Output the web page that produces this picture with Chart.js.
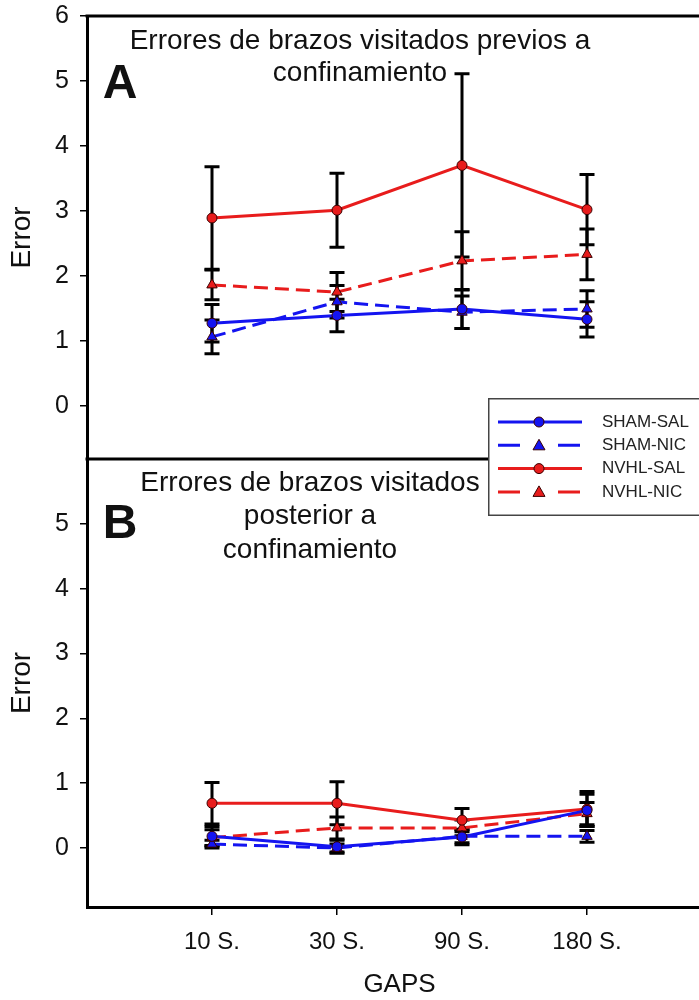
<!DOCTYPE html>
<html lang="es">
<head>
<meta charset="UTF-8">
<title>Errores de brazos visitados</title>
<script src="https://cdn.jsdelivr.net/npm/chart.js"></script>
<style>
  body { margin: 0; background: #fff; overflow: hidden; }
  #wrap { position: relative; width: 699px; height: 1000px; overflow: hidden; }
  canvas { position: absolute; left: 0; }
  #chartA { top: 0; }
  #chartB { top: 459px; }
  #legend { left: 488px; top: 398px; }
</style>
</head>
<body>
<div id="wrap">
  <canvas id="chartB" width="712" height="541"></canvas>
  <canvas id="chartA" width="712" height="462"></canvas>
  <canvas id="legend" width="211" height="118"></canvas>
</div>
<script>
const categories = ['10 S.', '30 S.', '90 S.', '180 S.'];
const groups = ['SHAM-SAL', 'SHAM-NIC', 'NVHL-SAL', 'NVHL-NIC'];

// A: previos a confinamiento (media y error)
const shamSalA = [1.27, 1.39, 1.49, 1.33];
const shamNicA = [1.06, 1.60, 1.44, 1.49];
const nvhlSalA = [2.89, 3.01, 3.70, 3.02];
const nvhlNicA = [1.86, 1.75, 2.23, 2.33];
const shamSalErrA = [0.29, 0.25, 0.30, 0.27];
const shamNicErrA = [0.26, 0.25, 0.25, 0.28];
const nvhlSalErrA = [0.79, 0.57, 1.41, 0.54];
const nvhlNicErrA = [0.23, 0.30, 0.45, 0.39];

// B: posterior a confinamiento
const shamSalB = [0.18, 0.02, 0.17, 0.58];
const shamNicB = [0.06, 0.00, 0.18, 0.18];
const nvhlSalB = [0.69, 0.69, 0.43, 0.60];
const nvhlNicB = [0.16, 0.31, 0.31, 0.53];
const shamSalErrB = [0.15, 0.10, 0.12, 0.25];
const shamNicErrB = [0.06, 0.06, 0.10, 0.09];
const nvhlSalErrB = [0.32, 0.33, 0.18, 0.27];
const nvhlNicErrB = [0.12, 0.17, 0.12, 0.17];

const yTicksA = [0, 1, 2, 3, 4, 5, 6];
const yTicksB = [0, 1, 2, 3, 4, 5];

const FONT = '"Liberation Sans", Arial, Helvetica, sans-serif';
const seriesColor = ['#1414f0', '#1414f0', '#e81c1c', '#e81c1c'];
const seriesDash = [[], [14, 7], [], [14, 7]];
const seriesMarker = ['circle', 'triangle', 'circle', 'triangle'];

Chart.defaults.font.family = FONT;
Chart.defaults.color = '#111';

function makeDatasets(means, errs) {
  return groups.map((g, i) => ({
    label: g,
    data: means[i].map((v, j) => ({ x: j + 1, y: v })),
    errs: errs[i],
    borderColor: seriesColor[i],
    backgroundColor: seriesColor[i],
    borderWidth: 3,
    borderDash: seriesDash[i],
    pointStyle: seriesMarker[i],
    pointRadius: seriesMarker[i] === 'triangle' ? 6 : 5,
    pointBorderColor: '#3a0000',
    pointBorderWidth: 1,
    pointBackgroundColor: seriesColor[i],
    tension: 0
  }));
}

// barras de error negras detras de las lineas
const errorBars = {
  id: 'errorBars',
  beforeDatasetsDraw(chart) {
    const { ctx, scales: { x, y } } = chart;
    ctx.save();
    ctx.strokeStyle = '#000';
    ctx.lineWidth = 3;
    chart.data.datasets.forEach(ds => {
      ds.data.forEach((p, j) => {
        const e = ds.errs[j];
        const px = x.getPixelForValue(p.x);
        const yt = y.getPixelForValue(p.y + e);
        const yb = y.getPixelForValue(p.y - e);
        ctx.beginPath();
        ctx.moveTo(px, yt); ctx.lineTo(px, yb);
        ctx.moveTo(px - 7.5, yt); ctx.lineTo(px + 7.5, yt);
        ctx.moveTo(px - 7.5, yb); ctx.lineTo(px + 7.5, yb);
        ctx.stroke();
      });
    });
    ctx.restore();
  }
};

// textos dentro del panel y lineas del marco
const panelDecor = {
  id: 'panelDecor',
  afterDraw(chart, args, opts) {
    const { ctx, chartArea } = chart;
    ctx.save();
    ctx.strokeStyle = '#000';
    ctx.lineWidth = 3;
    (opts.frame || []).forEach(side => {
      const yy = side === 'top' ? chartArea.top : chartArea.bottom;
      ctx.beginPath();
      ctx.moveTo(chartArea.left - 1.5, yy);
      ctx.lineTo(chartArea.right, yy);
      ctx.stroke();
    });
    ctx.fillStyle = '#111';
    ctx.textAlign = 'center';
    ctx.textBaseline = 'middle';
    ctx.font = 'bold 48px ' + FONT;
    ctx.fillText(opts.letter, chartArea.left + 33, chartArea.top + opts.letterY);
    ctx.font = '28px ' + FONT;
    opts.lines.forEach((t, k) => {
      ctx.fillText(t, opts.cx, chartArea.top + opts.ty + k * opts.lh);
    });
    ctx.restore();
  }
};

function yScale(min, max, ticks) {
  return {
    min: min, max: max,
    afterBuildTicks: s => { s.ticks = ticks.map(v => ({ value: v })); },
    afterFit: s => { s.width = 87; s.paddingTop = 0; s.paddingBottom = 0; },
    grid: { drawOnChartArea: false, drawTicks: true, tickLength: 7, color: '#000', lineWidth: 1.5 },
    border: { display: true, color: '#000', width: 3 },
    ticks: { font: { size: 25 }, color: '#111', padding: 11 },
    title: { display: true, text: 'Error', font: { size: 28 }, color: '#111', padding: { top: 5, bottom: 0 } }
  };
}

new Chart(document.getElementById('chartA'), {
  type: 'line',
  data: {
    datasets: makeDatasets([shamSalA, shamNicA, nvhlSalA, nvhlNicA],
                           [shamSalErrA, shamNicErrA, nvhlSalErrA, nvhlNicErrA])
  },
  options: {
    responsive: false,
    animation: false,
    layout: { autoPadding: false, padding: { top: 16, bottom: 3, left: 0, right: 0 } },
    plugins: {
      legend: { display: false },
      tooltip: { enabled: false },
      panelDecor: {
        frame: ['top', 'bottom'], letter: 'A', letterY: 69,
        lines: ['Errores de brazos visitados previos a', 'confinamiento'],
        cx: 360, ty: 25, lh: 32
      }
    },
    scales: {
      x: { type: 'linear', min: 0, max: 5, display: false },
      y: yScale(-0.82, 6, yTicksA)
    }
  },
  plugins: [errorBars, panelDecor]
});

new Chart(document.getElementById('chartB'), {
  type: 'line',
  data: {
    datasets: makeDatasets([shamSalB, shamNicB, nvhlSalB, nvhlNicB],
                           [shamSalErrB, shamNicErrB, nvhlSalErrB, nvhlNicErrB])
  },
  options: {
    responsive: false,
    animation: false,
    layout: { autoPadding: false, padding: 0 },
    plugins: {
      legend: { display: false },
      tooltip: { enabled: false },
      panelDecor: {
        frame: [], letter: 'B', letterY: 66,
        lines: ['Errores de brazos visitados', 'posterior a', 'confinamiento'],
        cx: 310, ty: 24, lh: 33.5
      }
    },
    scales: {
      x: {
        type: 'linear', min: 0, max: 5,
        afterBuildTicks: s => { s.ticks = categories.map((c, i) => ({ value: i + 1 })); },
        afterFit: s => { s.height = 93; s.paddingLeft = 0; s.paddingRight = 0; },
        grid: { drawOnChartArea: false, drawTicks: true, tickLength: 8, color: '#000', lineWidth: 1.5 },
        border: { display: true, color: '#000', width: 3 },
        ticks: { font: { size: 24 }, color: '#111', padding: 13,
                 callback: v => categories[Math.round(v) - 1] },
        title: { display: true, text: 'GAPS', font: { size: 26 }, color: '#111', padding: { top: 0, bottom: 0 } }
      },
      y: yScale(-0.91, 6, yTicksB)
    }
  },
  plugins: [errorBars, panelDecor]
});

// leyenda dibujada aparte, encima de los dos paneles
(function drawLegend() {
  const cv = document.getElementById('legend');
  const ctx = cv.getContext('2d');
  ctx.fillStyle = '#fff';
  ctx.fillRect(0, 0, cv.width, cv.height);
  ctx.strokeStyle = '#444';
  ctx.lineWidth = 1.5;
  ctx.strokeRect(0.75, 0.75, cv.width + 20, cv.height - 1.5);
  groups.forEach((g, i) => {
    const y = 24 + i * 23.3;
    ctx.save();
    ctx.strokeStyle = seriesColor[i];
    ctx.lineWidth = 3;
    ctx.setLineDash(seriesDash[i].length ? [22, 38] : []);
    ctx.beginPath();
    ctx.moveTo(10, y); ctx.lineTo(94, y);
    ctx.stroke();
    ctx.restore();
    ctx.fillStyle = seriesColor[i];
    ctx.strokeStyle = '#3a0000';
    ctx.lineWidth = 1;
    ctx.beginPath();
    if (seriesMarker[i] === 'circle') {
      ctx.arc(51, y, 5, 0, Math.PI * 2);
    } else {
      ctx.moveTo(51, y - 6); ctx.lineTo(57, y + 4.5); ctx.lineTo(45, y + 4.5); ctx.closePath();
    }
    ctx.fill(); ctx.stroke();
    ctx.fillStyle = '#222';
    ctx.font = '17px ' + FONT;
    ctx.textBaseline = 'middle';
    ctx.fillText(g, 114, y);
  });
})();
</script>
</body>
</html>
